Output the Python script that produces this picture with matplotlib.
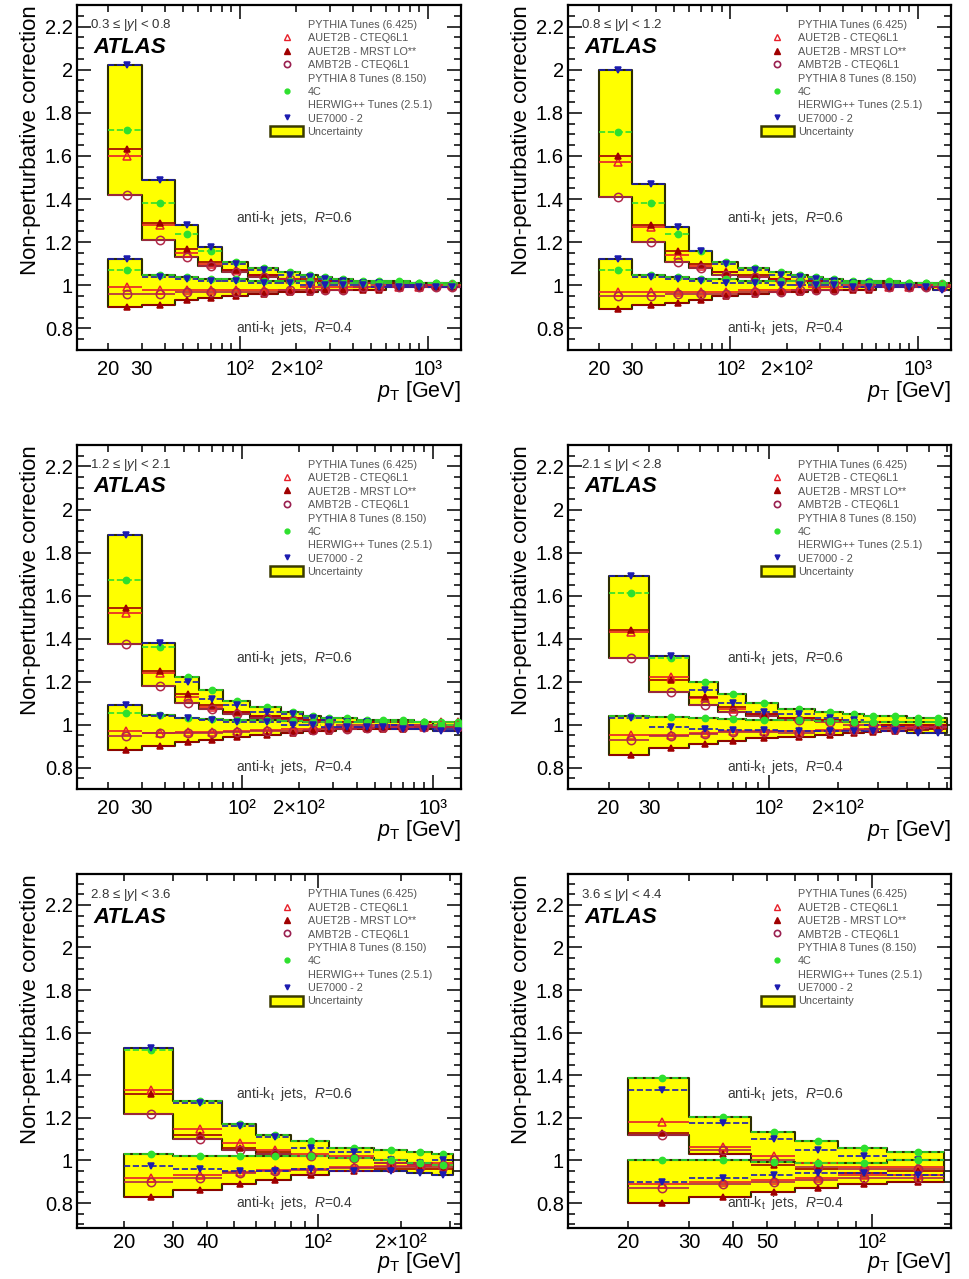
import numpy as np
import matplotlib.pyplot as plt
from matplotlib.lines import Line2D
from matplotlib.patches import Patch
from matplotlib.ticker import FixedLocator, FuncFormatter, MultipleLocator
import matplotlib.transforms as mtransforms

plt.rcParams['font.family'] = ['Liberation Sans', 'DejaVu Sans']
plt.rcParams['mathtext.fontset'] = 'custom'
plt.rcParams['mathtext.rm'] = 'Liberation Sans'
plt.rcParams['mathtext.it'] = 'Liberation Sans:italic'
plt.rcParams['mathtext.bf'] = 'Liberation Sans:bold'

# rapidity bins, one panel each
rap_labels = ['0.3 ≤ |$y$| < 0.8', '0.8 ≤ |$y$| < 1.2', '1.2 ≤ |$y$| < 2.1',
              '2.1 ≤ |$y$| < 2.8', '2.8 ≤ |$y$| < 3.6', '3.6 ≤ |$y$| < 4.4']

# pT bin edges [GeV]
edges_central = [20, 30, 45, 60, 80, 110, 160, 210, 260, 310, 400, 500, 600, 800, 1000, 1200, 1500]
edges_fwd1 = [20, 30, 45, 60, 80, 110, 160, 210, 260, 310, 400, 500, 600]
edges_fwd2 = [20, 30, 45, 60, 80, 110, 160, 210, 260, 310]
edges_fwd3 = [20, 30, 45, 60, 80, 110, 160]

# x range and labelled ticks per panel
x_ranges = [(13.6, 1500), (13.6, 1500), (13.8, 1400), (13.3, 625), (13.5, 330), (13.5, 168)]
x_labelled = [[20, 30, 200], [20, 30, 200], [20, 30, 200], [20, 30, 200],
              [20, 30, 40, 200], [20, 30, 40, 50]]

# tune order: AUET2B-CTEQ6L1, AUET2B-MRST LO**, AMBT2B-CTEQ6L1, 4C, UE7000-2
np_y1_r06 = [
    [1.60, 1.28, 1.15, 1.10, 1.07, 1.05, 1.03, 1.02, 1.02, 1.01, 1.01, 1.01, 1.00, 1.00, 1.00, 1.00],
    [1.63, 1.29, 1.17, 1.11, 1.07, 1.05, 1.03, 1.03, 1.02, 1.02, 1.01, 1.01, 1.01, 1.00, 1.00, 1.00],
    [1.42, 1.21, 1.13, 1.09, 1.06, 1.04, 1.03, 1.02, 1.01, 1.01, 1.01, 1.00, 1.00, 1.00, 1.00, 1.00],
    [1.72, 1.38, 1.24, 1.16, 1.11, 1.08, 1.06, 1.05, 1.04, 1.03, 1.02, 1.02, 1.02, 1.01, 1.01, 1.01],
    [2.02, 1.49, 1.28, 1.18, 1.10, 1.07, 1.05, 1.04, 1.03, 1.02, 1.01, 1.01, 1.00, 1.00, 0.99, 0.99],
]
np_y1_r04 = [
    [0.99, 0.98, 0.98, 0.98, 0.98, 0.98, 0.98, 0.99, 0.99, 0.99, 0.99, 0.99, 0.99, 0.99, 1.00, 1.00],
    [0.90, 0.91, 0.93, 0.94, 0.95, 0.96, 0.97, 0.97, 0.98, 0.98, 0.98, 0.98, 0.99, 0.99, 0.99, 0.99],
    [0.96, 0.96, 0.97, 0.97, 0.97, 0.97, 0.98, 0.98, 0.98, 0.98, 0.99, 0.99, 0.99, 0.99, 0.99, 0.99],
    [1.07, 1.05, 1.04, 1.03, 1.03, 1.02, 1.02, 1.02, 1.01, 1.01, 1.01, 1.01, 1.01, 1.01, 1.01, 1.00],
    [1.12, 1.04, 1.03, 1.02, 1.02, 1.01, 1.01, 1.00, 1.00, 1.00, 1.00, 0.99, 0.99, 0.99, 0.99, 0.99],
]
np_y2_r06 = [
    [1.57, 1.27, 1.14, 1.09, 1.06, 1.04, 1.03, 1.02, 1.02, 1.01, 1.01, 1.01, 1.00, 1.00, 1.00, 1.00],
    [1.60, 1.28, 1.16, 1.10, 1.06, 1.05, 1.03, 1.02, 1.02, 1.01, 1.01, 1.01, 1.01, 1.00, 1.00, 1.00],
    [1.41, 1.20, 1.11, 1.08, 1.05, 1.04, 1.02, 1.02, 1.01, 1.01, 1.00, 1.00, 1.00, 1.00, 1.00, 1.00],
    [1.71, 1.38, 1.24, 1.16, 1.11, 1.08, 1.06, 1.05, 1.04, 1.03, 1.02, 1.02, 1.02, 1.01, 1.01, 1.01],
    [2.00, 1.47, 1.27, 1.16, 1.10, 1.07, 1.05, 1.04, 1.03, 1.02, 1.01, 1.01, 1.00, 1.00, 0.99, 0.99],
]
np_y2_r04 = [
    [0.97, 0.97, 0.97, 0.97, 0.97, 0.98, 0.98, 0.98, 0.99, 0.99, 0.99, 0.99, 0.99, 0.99, 1.00, 1.00],
    [0.89, 0.91, 0.92, 0.93, 0.95, 0.96, 0.97, 0.97, 0.98, 0.98, 0.98, 0.98, 0.99, 0.99, 0.99, 0.99],
    [0.95, 0.95, 0.96, 0.96, 0.96, 0.97, 0.97, 0.98, 0.98, 0.98, 0.99, 0.99, 0.99, 0.99, 0.99, 0.99],
    [1.07, 1.05, 1.04, 1.03, 1.03, 1.02, 1.02, 1.02, 1.01, 1.01, 1.01, 1.01, 1.01, 1.01, 1.01, 1.00],
    [1.12, 1.04, 1.03, 1.02, 1.01, 1.01, 1.00, 1.00, 1.00, 1.00, 0.99, 0.99, 0.99, 0.99, 0.99, 0.98],
]
np_y3_r06 = [
    [1.52, 1.24, 1.13, 1.08, 1.06, 1.04, 1.03, 1.02, 1.01, 1.01, 1.01, 1.01, 1.00, 1.00, 1.01, 1.01],
    [1.54, 1.25, 1.14, 1.09, 1.06, 1.04, 1.03, 1.02, 1.02, 1.01, 1.01, 1.01, 1.01, 1.01, 1.01, 1.01],
    [1.375, 1.18, 1.10, 1.07, 1.05, 1.03, 1.02, 1.01, 1.01, 1.00, 1.00, 1.00, 1.00, 1.00, 1.00, 1.00],
    [1.67, 1.36, 1.22, 1.16, 1.11, 1.08, 1.06, 1.04, 1.03, 1.03, 1.02, 1.02, 1.02, 1.01, 1.01, 1.01],
    [1.88, 1.38, 1.20, 1.12, 1.09, 1.06, 1.05, 1.03, 1.02, 1.01, 1.01, 1.00, 1.00, 0.99, 0.98, 0.98],
]
np_y3_r04 = [
    [0.97, 0.96, 0.965, 0.965, 0.97, 0.975, 0.98, 0.98, 0.985, 0.99, 0.99, 0.99, 0.99, 0.99, 1.00, 1.00],
    [0.88, 0.90, 0.92, 0.93, 0.94, 0.95, 0.96, 0.97, 0.97, 0.98, 0.98, 0.98, 0.98, 0.99, 0.99, 0.99],
    [0.945, 0.96, 0.96, 0.96, 0.965, 0.97, 0.97, 0.975, 0.98, 0.98, 0.985, 0.99, 0.99, 0.99, 0.99, 0.99],
    [1.055, 1.045, 1.03, 1.025, 1.02, 1.02, 1.015, 1.01, 1.01, 1.01, 1.01, 1.01, 1.01, 1.01, 1.00, 1.00],
    [1.09, 1.04, 1.03, 1.02, 1.01, 1.01, 1.00, 1.00, 0.99, 0.99, 0.99, 0.99, 0.98, 0.98, 0.97, 0.97],
]
np_y4_r06 = [
    [1.43, 1.22, 1.125, 1.07, 1.05, 1.03, 1.02, 1.01, 1.01, 1.00, 1.00, 1.00],
    [1.44, 1.205, 1.13, 1.08, 1.05, 1.03, 1.02, 1.01, 1.01, 1.00, 1.00, 1.00],
    [1.31, 1.15, 1.09, 1.06, 1.04, 1.02, 1.01, 1.00, 1.00, 0.99, 0.99, 0.99],
    [1.61, 1.31, 1.20, 1.14, 1.10, 1.07, 1.06, 1.05, 1.04, 1.04, 1.03, 1.03],
    [1.69, 1.32, 1.16, 1.10, 1.06, 1.05, 1.03, 1.02, 1.00, 0.99, 0.98, 0.98],
]
np_y4_r04 = [
    [0.95, 0.95, 0.96, 0.97, 0.97, 0.97, 0.975, 0.98, 0.98, 0.985, 0.99, 0.99],
    [0.86, 0.89, 0.91, 0.925, 0.935, 0.94, 0.95, 0.96, 0.965, 0.97, 0.975, 0.98],
    [0.93, 0.945, 0.955, 0.965, 0.965, 0.96, 0.97, 0.975, 0.98, 0.98, 0.985, 0.99],
    [1.04, 1.035, 1.03, 1.025, 1.02, 1.02, 1.015, 1.01, 1.01, 1.01, 1.01, 1.01],
    [1.03, 0.99, 0.98, 0.975, 0.975, 0.97, 0.97, 0.97, 0.97, 0.97, 0.96, 0.96],
]
np_y5_r06 = [
    [1.33, 1.15, 1.08, 1.05, 1.03, 1.02, 1.00, 0.99, 0.99],
    [1.31, 1.12, 1.06, 1.04, 1.02, 1.01, 0.99, 0.98, 0.98],
    [1.22, 1.10, 1.05, 1.03, 1.02, 1.01, 0.99, 0.98, 0.98],
    [1.52, 1.28, 1.17, 1.12, 1.09, 1.06, 1.05, 1.04, 1.03],
    [1.53, 1.27, 1.16, 1.11, 1.06, 1.04, 1.00, 0.99, 1.00],
]
np_y5_r04 = [
    [0.92, 0.93, 0.945, 0.955, 0.96, 0.97, 0.975, 0.975, 0.98],
    [0.83, 0.86, 0.89, 0.91, 0.93, 0.95, 0.96, 0.96, 0.96],
    [0.90, 0.92, 0.94, 0.95, 0.955, 0.965, 0.97, 0.97, 0.97],
    [1.03, 1.02, 1.02, 1.02, 1.02, 1.01, 1.00, 0.99, 0.98],
    [0.975, 0.96, 0.95, 0.95, 0.96, 0.95, 0.95, 0.94, 0.93],
]
np_y6_r06 = [
    [1.18, 1.065, 1.02, 0.99, 0.97, 0.97],
    [1.13, 1.03, 0.98, 0.96, 0.94, 0.95],
    [1.12, 1.05, 1.00, 0.97, 0.96, 0.96],
    [1.385, 1.205, 1.135, 1.09, 1.06, 1.04],
    [1.33, 1.175, 1.10, 1.05, 1.02, 1.00],
]
np_y6_r04 = [
    [0.89, 0.90, 0.91, 0.92, 0.93, 0.93],
    [0.80, 0.83, 0.85, 0.87, 0.89, 0.90],
    [0.87, 0.89, 0.90, 0.91, 0.92, 0.92],
    [1.00, 1.00, 0.995, 0.99, 0.99, 1.00],
    [0.90, 0.92, 0.93, 0.94, 0.94, 0.93],
]

panel_edges = [edges_central, edges_central, edges_central, edges_fwd1, edges_fwd2, edges_fwd3]
panel_r06 = [np_y1_r06, np_y2_r06, np_y3_r06, np_y4_r06, np_y5_r06, np_y6_r06]
panel_r04 = [np_y1_r04, np_y2_r04, np_y3_r04, np_y4_r04, np_y5_r04, np_y6_r04]

# marker, face, edge/line colour, size, line style
tune_styles = [
    dict(marker='^', mfc='none', color='#e8202a', ms=6, ls='-'),
    dict(marker='^', mfc='#a00000', color='#a00000', ms=5, ls='-'),
    dict(marker='o', mfc='none', color='#b02848', ms=6, ls='-'),
    dict(marker='o', mfc='#2ee02e', color='#2ee02e', ms=4.5, ls='--'),
    dict(marker='v', mfc='#1c1cb0', color='#1c1cb0', ms=4.5, ls='--'),
]

band_face = '#ffff00'
band_edge = '#2e2e00'

W, H = 969, 1279
fig = plt.figure(figsize=(W / 100, H / 100), dpi=100)

col_x = [77, 568]
col_w = [384, 383]
row_top = [5, 445, 874]
row_h = [345, 344, 354]
row_ylim = [(0.7, 2.3), (0.7, 2.3), (0.683, 2.345)]
row_xlab = [-0.083, -0.083, -0.062]
row_xpad = [7.5, 7.5, 3.5]

SUP = {'2': '²', '3': '³'}


def draw_band(ax, edges, series, z):
    vals = np.array(series)
    lo, hi = vals.min(axis=0), vals.max(axis=0)
    x = np.repeat(edges, 2)[1:-1]
    ax.fill_between(x, np.repeat(lo, 2), np.repeat(hi, 2), facecolor=band_face,
                    edgecolor=band_edge, lw=1.5, zorder=z)


def draw_tunes(ax, edges, series, z):
    e = np.array(edges, dtype=float)
    centres = 0.5 * (e[:-1] + e[1:])
    for vals, st in zip(series, tune_styles):
        ax.hlines(vals, e[:-1], e[1:], colors=st['color'], lw=1.2,
                  linestyles=st['ls'], zorder=z)
        ax.plot(centres, vals, ls='none', marker=st['marker'], ms=st['ms'],
                mfc=st['mfc'], mec=st['color'], mew=1.1, zorder=z + 1)


def x_formatter(labelled):
    def fmt(x, pos):
        v = int(round(x))
        if v not in labelled:
            return ''
        if v >= 200:
            e = int(np.floor(np.log10(v)))
            return '%d×10%s' % (v // 10 ** e, SUP[str(e)])
        return '%d' % v
    return FuncFormatter(fmt)


def decade_label(x, pos):
    return '10' + SUP[str(int(round(np.log10(x))))]


legend_handles = [
    Line2D([], [], ls='none'),
    Line2D([], [], ls='none', marker='^', mfc='none', mec='#e8202a', ms=4.5, mew=1.0),
    Line2D([], [], ls='none', marker='^', mfc='#a00000', mec='#a00000', ms=4),
    Line2D([], [], ls='none', marker='o', mfc='none', mec='#9a2050', ms=4.5, mew=1.2),
    Line2D([], [], ls='none'),
    Line2D([], [], ls='none', marker='o', mfc='#2ee02e', mec='#2ee02e', ms=3.5),
    Line2D([], [], ls='none'),
    Line2D([], [], ls='none', marker='v', mfc='#1c1cb0', mec='#1c1cb0', ms=3.5),
    Patch(facecolor=band_face, edgecolor='#3a3a00', lw=1.8),
]
legend_labels = ['PYTHIA Tunes (6.425)', 'AUET2B - CTEQ6L1', 'AUET2B - MRST LO**',
                 'AMBT2B - CTEQ6L1', 'PYTHIA 8 Tunes (8.150)', '4C',
                 'HERWIG++ Tunes (2.5.1)', 'UE7000 - 2', 'Uncertainty']

for i in range(6):
    row, col = divmod(i, 2)
    left = col_x[col] / W
    bottom = 1 - (row_top[row] + row_h[row]) / H
    ax = fig.add_axes([left, bottom, col_w[col] / W, row_h[row] / H])

    edges = panel_edges[i]
    draw_band(ax, edges, panel_r06[i], 1)
    draw_band(ax, edges, panel_r04[i], 2)
    draw_tunes(ax, edges, panel_r06[i], 3)
    draw_tunes(ax, edges, panel_r04[i], 3)

    ax.set_xscale('log')
    ax.set_xlim(*x_ranges[i])
    ax.set_ylim(*row_ylim[row])

    lo, hi = x_ranges[i]
    decades = [d for d in (100, 1000) if lo <= d <= hi]
    minors = [m * d for d in (10, 100, 1000) for m in range(2, 10) if lo <= m * d <= hi]
    ax.xaxis.set_major_locator(FixedLocator(decades))
    ax.xaxis.set_minor_locator(FixedLocator(minors))
    ax.xaxis.set_major_formatter(FuncFormatter(decade_label))
    ax.xaxis.set_minor_formatter(x_formatter(x_labelled[i]))

    ax.yaxis.set_major_locator(MultipleLocator(0.2))
    ax.yaxis.set_minor_locator(MultipleLocator(0.05))
    ax.yaxis.set_major_formatter(FuncFormatter(lambda y, p: '%g' % round(y, 2)))

    ax.tick_params(which='both', direction='in', top=True, right=True, width=1.1,
                   labelsize=14.5)
    ax.tick_params(which='major', length=10)
    ax.tick_params(which='minor', length=5)
    ax.tick_params(axis='x', which='both', pad=row_xpad[row])
    ax.tick_params(axis='y', which='both', pad=3)
    for s in ax.spines.values():
        s.set_linewidth(1.6)

    ax.set_ylabel('Non-perturbative correction', fontsize=16, loc='top')
    ax.yaxis.set_label_coords(-0.095, 1.0)
    ax.set_xlabel(r'$p_{\mathrm{T}}$ [GeV]', fontsize=15.5, loc='right')
    ax.xaxis.set_label_coords(1.0, row_xlab[row])

    ax.text(0.035, 0.942, rap_labels[i], transform=ax.transAxes, fontsize=9.5,
            va='center', ha='left', color='#333333')
    ax.text(0.042, 0.878, 'ATLAS', transform=ax.transAxes, fontsize=16,
            fontweight='bold', style='italic', va='center', ha='left')

    trans = mtransforms.blended_transform_factory(ax.transAxes, ax.transData)
    ax.text(0.415, 1.31, r'anti-k$_{\mathrm{t}}$  jets,  $R$=0.6', transform=trans,
            fontsize=10, va='center', ha='left', color='#3a3a3a')
    ax.text(0.415, 0.80, r'anti-k$_{\mathrm{t}}$  jets,  $R$=0.4', transform=trans,
            fontsize=10, va='center', ha='left', color='#3a3a3a')

    ax.legend(legend_handles, legend_labels, loc='upper left',
              bbox_to_anchor=(0.503, 0.958), frameon=False, fontsize=7.8,
              labelcolor='#555555', handlelength=3.05, handleheight=1.0,
              handletextpad=0.4, labelspacing=0.26, borderpad=0, borderaxespad=0)

fig.savefig('out.png', dpi=100)
